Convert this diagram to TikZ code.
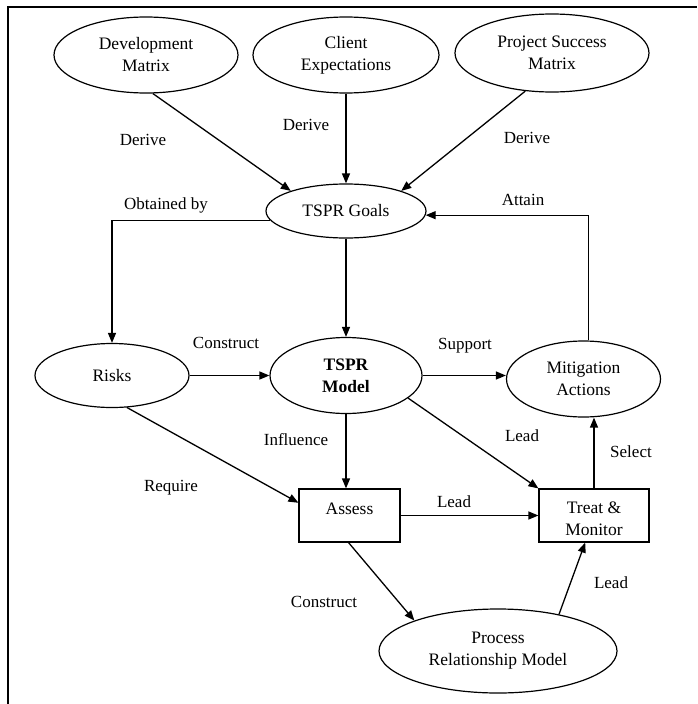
\documentclass[tikz,border=0pt]{standalone}
\usepackage{fontspec}
\setmainfont{Liberation Serif}
\usetikzlibrary{shapes.geometric,arrows.meta,calc}
\tikzset{
  every picture/.style={line join=miter},
  ell/.style={ellipse, draw, line width=1.2pt, inner sep=0pt, align=center,
    font=\fontsize{17.5}{22}\selectfont},
  boxn/.style={rectangle, draw, line width=1.2pt, inner sep=0pt, align=center,
    font=\fontsize{17.5}{22}\selectfont, minimum width=101pt, minimum height=53pt},
  lbl/.style={inner sep=0pt, font=\fontsize{17}{20}\selectfont},
  arr/.style={line width=1.3pt, -{Triangle[length=10pt,width=8pt]}},
  ln/.style={line width=1.3pt}
}
\begin{document}
\begin{tikzpicture}[x=1pt,y=-1pt]
\useasboundingbox (0,0) rectangle (697,704);
% frame
\draw[line width=2.5pt] (8,704) -- (8,7) -- (697,7);
% nodes
\node[ell, minimum width=184pt, minimum height=76pt] (dev) at (146,55) {Development\\Matrix};
\node[ell, minimum width=186pt, minimum height=76pt] (client) at (346,55) {Client\\Expectations};
\node[ell, minimum width=194pt, minimum height=78pt] (psm) at (552,53) {Project Success\\Matrix};
\node[ell, minimum width=160pt, minimum height=54pt] (goals) at (346,211) {TSPR Goals};
\node[ell, minimum width=154pt, minimum height=64pt] (risks) at (112,375.5) {Risks};
\node[ell, minimum width=152pt, minimum height=76pt, font=\fontsize{17.5}{22}\selectfont\bfseries] (model) at (346,375.5) {TSPR\\Model};
\node[ell, minimum width=154pt, minimum height=76pt] (mit) at (583.5,379) {Mitigation\\Actions};
\node[boxn] (assess) at (349.5,515.5) {Assess\rule[-14pt]{0pt}{14pt}};
\node[boxn, minimum width=110pt] (treat) at (594,515.5) {\rule{0pt}{19pt}Treat \&\\Monitor};
\node[ell, minimum width=238pt, minimum height=84pt] (prm) at (498,651) {Process\\Relationship Model};
% connectors
\draw[arr] (dev.-80) -- (goals.160);
\draw[arr] (client.south) -- (goals.north);
\draw[arr] (psm.-125) -- (goals.20);
\draw[arr] (goals.187) -| (risks.north);
\draw[arr] (goals.south) -- (model.north);
\draw[arr] (risks.east) -- (model.west);
\draw[arr] (model.east) -- (model.east -| mit.west);
\draw[arr] (mit.83) |- (goals.-3.6);
\draw[arr] (model.-20) -- (treat.north west);
\draw[arr] (model.south) -- (model.south |- assess.north);
\draw[arr] (risks.-65) -- (assess.166);
\draw[arr] (assess.east) -- (treat.west);
\draw[arr] (treat.north) -- (treat.north |- mit.south);
\draw[arr] (assess.-92) -- (prm.160);
\draw[arr] (prm.31) -- (treat.-108);
% labels
\node[lbl] (l1) at (143,140) {Derive};
\node[lbl] (l2) at (306,125) {Derive};
\node[lbl] (l3) at (527,138) {Derive};
\node[lbl] (l4) at (166,205) {Obtained by};
\node[lbl] (l5) at (523,200) {Attain};
\node[lbl] (l6) at (226,343) {Construct};
\node[lbl] (l7) at (465,346) {Support};
\node[lbl] (l8) at (296,440) {Influence};
\node[lbl] (l9) at (522,436) {Lead};
\node[lbl] (l10) at (631,452) {Select};
\node[lbl] (l11) at (171,488) {Require};
\node[lbl] (l12) at (454,502) {Lead};
\node[lbl] (l13) at (324,602) {Construct};
\node[lbl] (l14) at (611,583) {Lead};
\end{tikzpicture}
\end{document}
